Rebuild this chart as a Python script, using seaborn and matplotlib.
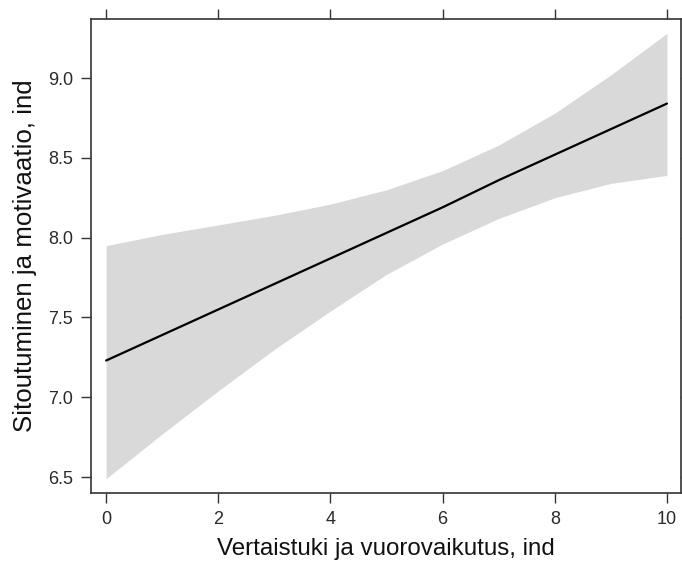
import numpy as np
import pandas as pd
import matplotlib
matplotlib.use('Agg')
import matplotlib.pyplot as plt
import seaborn as sns

# Effect of peer support on commitment/motivation
vertaistuki = [0, 1, 2, 3, 4, 5, 6, 7, 8, 9, 10]
fit = [7.23, 7.39, 7.55, 7.71, 7.87, 8.03, 8.19, 8.36, 8.52, 8.68, 8.84]
upper = [7.95, 8.02, 8.08, 8.14, 8.21, 8.30, 8.42, 8.58, 8.78, 9.02, 9.28]
lower = [6.49, 6.77, 7.04, 7.30, 7.54, 7.77, 7.96, 8.12, 8.25, 8.34, 8.39]

x_ticks = [0, 2, 4, 6, 8, 10]
y_ticks = [6.5, 7.0, 7.5, 8.0, 8.5, 9.0]

df = pd.DataFrame({'x': vertaistuki, 'fit': fit, 'upper': upper, 'lower': lower})

sns.set_theme(style='ticks')
plt.rcParams['font.family'] = ['Liberation Sans', 'DejaVu Sans']

fig = plt.figure(figsize=(6.82, 5.67), dpi=100)
ax = fig.add_axes([0.1334, 0.1305, 0.8651, 0.836])

ax.fill_between(df['x'], df['lower'], df['upper'], color='#d9d9d9', linewidth=0)
sns.lineplot(data=df, x='x', y='fit', color='black', linewidth=1.6, ax=ax)

ax.set_xlim(-0.27, 10.25)
ax.set_ylim(6.40, 9.37)
ax.set_xticks(x_ticks)
ax.set_yticks(y_ticks)
ax.set_yticklabels([f'{v:.1f}' for v in y_ticks])

ax.tick_params(axis='both', direction='out', length=7, width=1, color='#333333',
               labelsize=13, labelcolor='#2a2a2a', pad=6,
               top=True, right=True, labeltop=False, labelright=False)
for s in ax.spines.values():
    s.set_color('#333333')
    s.set_linewidth(1.2)

ax.set_xlabel('Vertaistuki ja vuorovaikutus, ind', fontsize=17.4, color='#111111', labelpad=7)
ax.set_ylabel('Sitoutuminen ja motivaatio, ind', fontsize=18.6, color='#111111', labelpad=8)

fig.savefig('out.png', dpi=100)
